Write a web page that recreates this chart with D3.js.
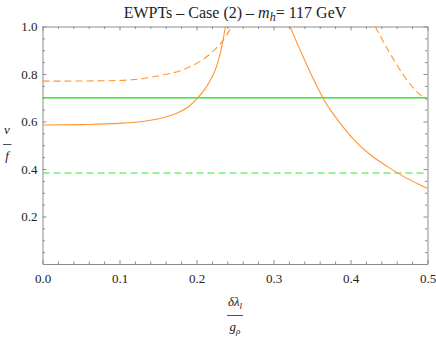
<!DOCTYPE html>
<html><head><meta charset="utf-8">
<script src="https://cdn.jsdelivr.net/npm/d3@7"></script>
<style>
html,body{margin:0;padding:0;background:#fff;}
svg text{font-family:"Liberation Serif","Times New Roman","DejaVu Serif",serif !important;}
</style></head>
<body>
<script>
// data
const xTicks = [0.0, 0.1, 0.2, 0.3, 0.4, 0.5];
const yTicks = [0.2, 0.4, 0.6, 0.8, 1.0];
const greenSolid = 0.70;
const greenDashed = 0.383;
const orangeSolid1 = [[0,0.585],[0.05,0.587],[0.1,0.592],[0.12,0.597],[0.14,0.605],[0.16,0.619],[0.175,0.636],[0.19,0.663],[0.2,0.694],[0.21,0.732],[0.22,0.786],[0.226,0.832],[0.2305,0.883],[0.234,0.934],[0.2375,1.0]];
const orangeDashed1 = [[0,0.770],[0.05,0.7705],[0.1,0.773],[0.127,0.779],[0.153,0.794],[0.179,0.814],[0.203,0.850],[0.222,0.897],[0.233,0.935],[0.2457,1.0]];
const orangeSolid2 = [[0.3214,1.0],[0.3309,0.928],[0.3396,0.864],[0.3483,0.803],[0.3569,0.745],[0.3655,0.692],[0.3745,0.646],[0.3840,0.604],[0.4037,0.526],[0.4253,0.461],[0.447,0.412],[0.4686,0.369],[0.4903,0.333],[0.5,0.318]];
const orangeDashed2 = [[0.432,1.0],[0.4513,0.887],[0.4686,0.796],[0.486,0.726],[0.5,0.69]];

const W = 436, H = 340;
const m = {l:42.5, r:8.5, t:26.5, b:76};
const FONT = "'Liberation Serif','Times New Roman',serif";
const svg = d3.select("body").append("svg").attr("width",W).attr("height",H).style("display","block");
const x = d3.scaleLinear().domain([0,0.5]).range([m.l, W-m.r]);
const y = d3.scaleLinear().domain([0,1]).range([H-m.b, m.t]);

const frameCol = "#8c8c8c";
const minorX = d3.range(0,0.5001,0.02).filter(v=>Math.abs(v*10-Math.round(v*10))>1e-6);
const minorY = d3.range(0,1.0001,0.05).filter(v=>Math.abs(v*5-Math.round(v*5))>1e-6);
const majorYAll = [0,0.2,0.4,0.6,0.8,1.0];

function styleAxis(g){
  g.attr("font-family",FONT);
  g.selectAll("path.domain").attr("stroke",frameCol).attr("stroke-width",1);
  g.selectAll(".tick line").attr("stroke",frameCol);
  g.selectAll(".tick text").attr("fill","#222").attr("font-size","13px").attr("font-family",FONT);
}
// bottom
svg.append("g").attr("transform",`translate(0,${y(0)})`)
  .call(d3.axisBottom(x).tickValues(xTicks).tickFormat(d3.format(".1f")).tickSizeInner(-4).tickSizeOuter(0).tickPadding(10)).call(styleAxis);
svg.append("g").attr("transform",`translate(0,${y(0)})`)
  .call(d3.axisBottom(x).tickValues(minorX).tickFormat("").tickSizeInner(-2.5).tickSizeOuter(0)).call(styleAxis).select(".domain").remove();
// top
svg.append("g").attr("transform",`translate(0,${y(1)})`)
  .call(d3.axisTop(x).tickValues(xTicks).tickFormat("").tickSizeInner(-4).tickSizeOuter(0)).call(styleAxis);
svg.append("g").attr("transform",`translate(0,${y(1)})`)
  .call(d3.axisTop(x).tickValues(minorX).tickFormat("").tickSizeInner(-2.5).tickSizeOuter(0)).call(styleAxis).select(".domain").remove();
// left
svg.append("g").attr("transform",`translate(${x(0)},0)`)
  .call(d3.axisLeft(y).tickValues(yTicks).tickFormat(d3.format(".1f")).tickSizeInner(-4).tickSizeOuter(0).tickPadding(5)).call(styleAxis);
svg.append("g").attr("transform",`translate(${x(0)},0)`)
  .call(d3.axisLeft(y).tickValues(minorY).tickFormat("").tickSizeInner(-2.5).tickSizeOuter(0)).call(styleAxis).select(".domain").remove();
// right
svg.append("g").attr("transform",`translate(${x(0.5)},0)`)
  .call(d3.axisRight(y).tickValues(majorYAll).tickFormat("").tickSizeInner(-4).tickSizeOuter(0)).call(styleAxis);
svg.append("g").attr("transform",`translate(${x(0.5)},0)`)
  .call(d3.axisRight(y).tickValues(minorY).tickFormat("").tickSizeInner(-2.5).tickSizeOuter(0)).call(styleAxis).select(".domain").remove();

// clip
svg.append("clipPath").attr("id","clip").append("rect")
  .attr("x",x(0)).attr("y",y(1)).attr("width",x(0.5)-x(0)).attr("height",y(0)-y(1));
const plot = svg.append("g").attr("clip-path","url(#clip)");

const orange = "#ff9531", green = "#2bf02b";
const line = d3.line().x(d=>x(d[0])).y(d=>y(d[1])).curve(d3.curveMonotoneX);

plot.append("line").attr("x1",x(0)).attr("x2",x(0.5)).attr("y1",y(greenSolid)).attr("y2",y(greenSolid))
  .attr("stroke",green).attr("stroke-width",1.3);
plot.append("line").attr("x1",x(0)).attr("x2",x(0.5)).attr("y1",y(greenDashed)).attr("y2",y(greenDashed))
  .attr("stroke",green).attr("stroke-width",1.1).attr("stroke-dasharray","7,4");

[[orangeSolid1,null],[orangeDashed1,"7,4"],[orangeSolid2,null],[orangeDashed2,"7,4"]].forEach(([d,dash])=>{
  plot.append("path").datum(d).attr("d",line).attr("fill","none").attr("stroke",orange)
    .attr("stroke-width",1.1).attr("stroke-dasharray",dash);
});

function txt(xp,yp,size){
  return svg.append("text").attr("x",xp).attr("y",yp).attr("text-anchor","middle")
    .attr("font-family",FONT).attr("font-size",size+"px").attr("fill","#222");
}
// title
const t = txt((x(0)+x(0.5))/2, 18, 16);
t.append("tspan").text("EWPTs \u2013 Case (2) \u2013 ");
t.append("tspan").text("m").attr("font-style","italic");
t.append("tspan").text("h").attr("font-style","italic").attr("font-size","12px").attr("dy",3);
t.append("tspan").text("= 117 GeV").attr("dy",-3);

// x label
const cx = (x(0)+x(0.5))/2;
const xl1 = txt(cx,306,13).attr("font-style","italic");
xl1.append("tspan").text("\u03b4\u03bb");
xl1.append("tspan").text("l").attr("font-size","9px").attr("dy",3);
svg.append("line").attr("x1",cx-8).attr("x2",cx+8).attr("y1",315.5).attr("y2",315.5).attr("stroke","#222").attr("stroke-width",0.8);
const xl2 = txt(cx,331,13).attr("font-style","italic");
xl2.append("tspan").text("g");
xl2.append("tspan").text("\u03c1").attr("font-size","9px").attr("dy",3);

// y label
txt(7,134,13).attr("font-style","italic").text("v");
svg.append("line").attr("x1",3).attr("x2",11.5).attr("y1",144.5).attr("y2",144.5).attr("stroke","#222").attr("stroke-width",0.8);
txt(7,160,13).attr("font-style","italic").text("f");
</script>
</body></html>
